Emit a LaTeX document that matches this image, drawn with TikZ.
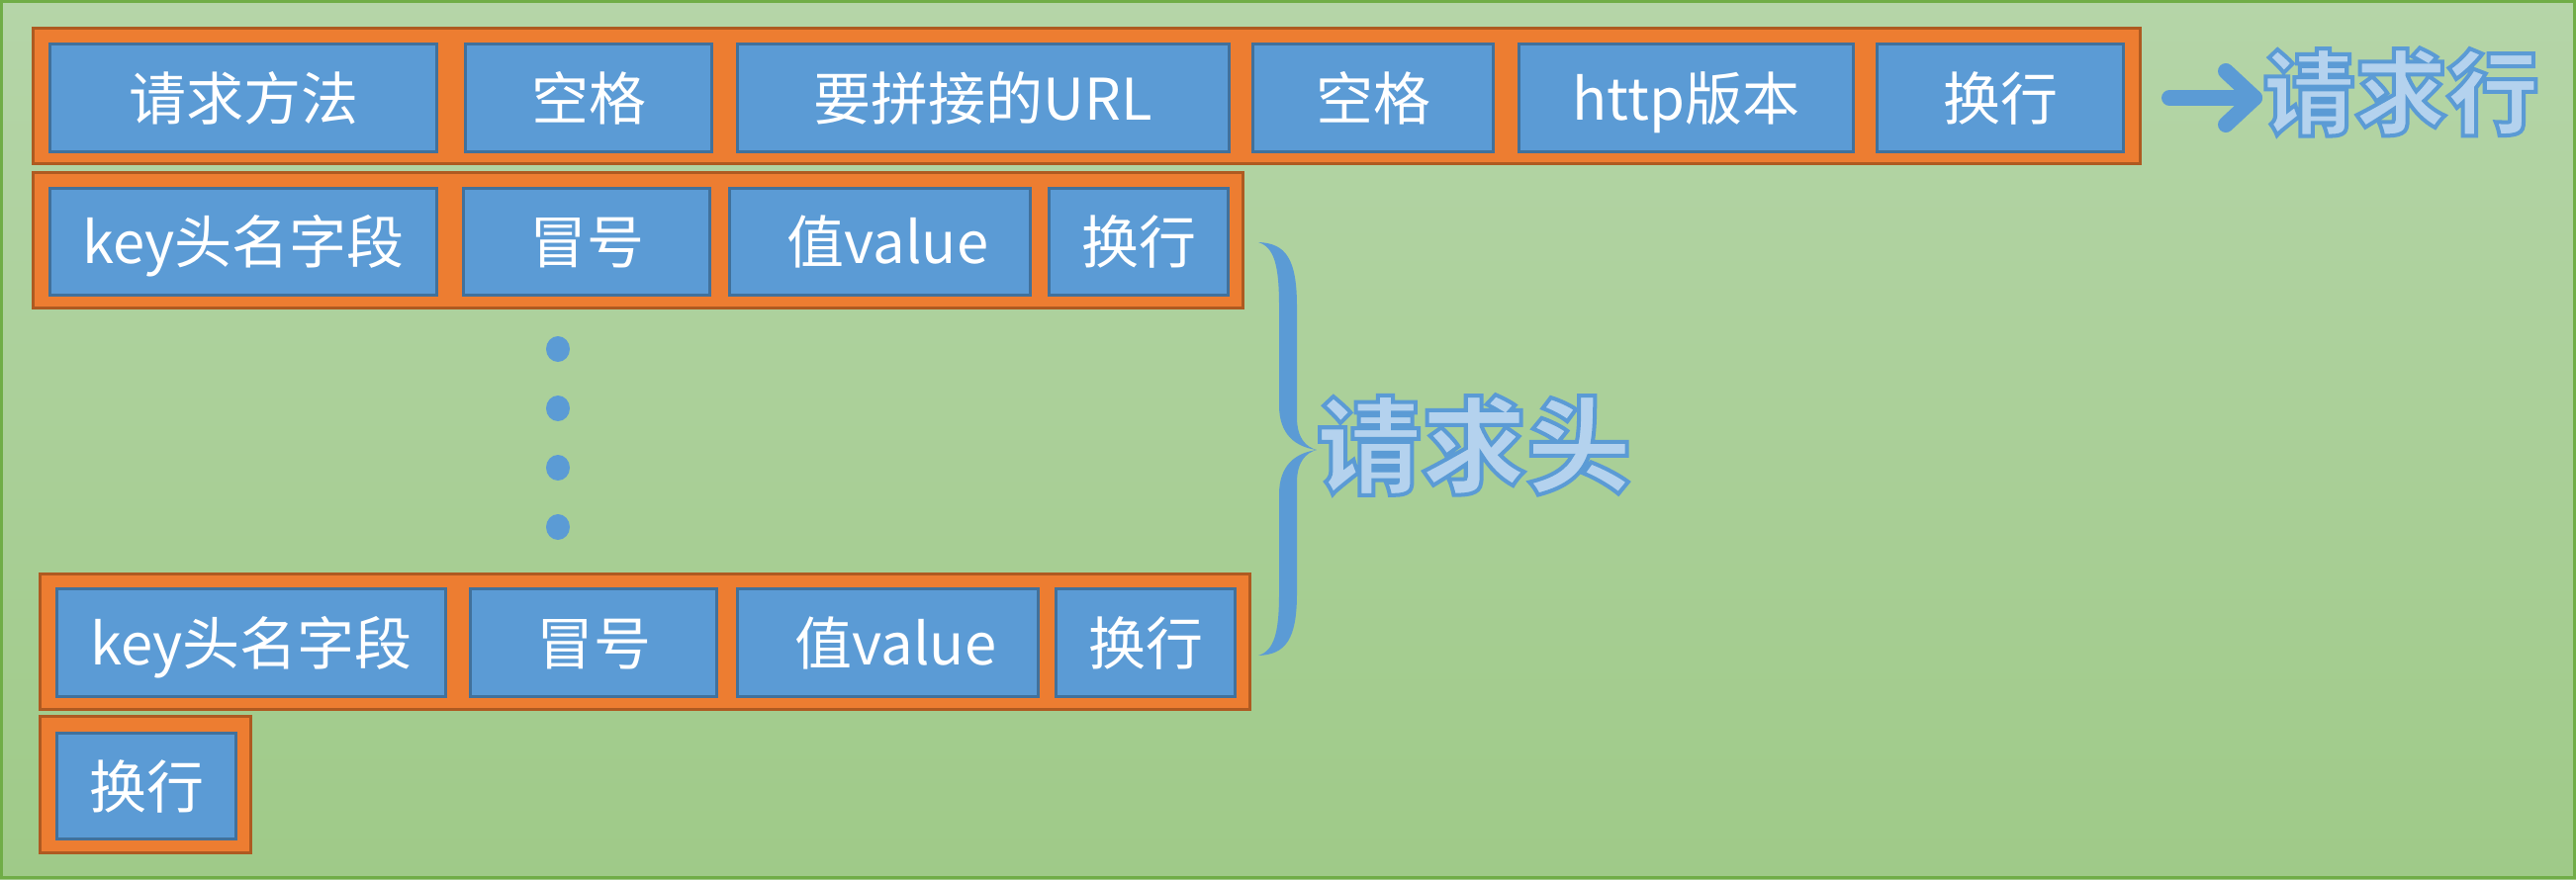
\documentclass[tikz,border=0pt]{standalone}
\usepackage{fontspec}
\newfontfamily\cjk{Noto Sans CJK SC}
\definecolor{bl}{HTML}{5B9BD5}
\definecolor{blb}{HTML}{41719C}
\definecolor{org}{HTML}{ED7D31}
\definecolor{orgb}{HTML}{AE5A21}
\definecolor{grnb}{HTML}{70AD47}
\definecolor{bgtop}{HTML}{B5D5A8}
\definecolor{bgbot}{HTML}{9FCA88}
\definecolor{lt}{HTML}{B4D2EE}
\newcommand{\outlinetext}[1]{\special{pdf:literal direct 2 Tr 4 w 0.357 0.608 0.835 RG}#1\special{pdf:literal direct 0 Tr}}
\begin{document}
\begin{tikzpicture}[x=1pt,y=-1pt,
  rowbox/.style={draw=orgb,fill=org,line width=3pt,inner sep=0pt,outer sep=0pt},
  field/.style={draw=blb,fill=bl,line width=3pt,inner sep=0pt,outer sep=0pt,
    text=white,font=\cjk\fontsize{58}{58}\selectfont,text height=47.5pt,text depth=3.5pt},
  biglabel/.style={inner sep=0pt,outer sep=0pt,text=lt,font=\cjk\bfseries},
  arrowline/.style={draw=bl,line width=16pt,line cap=round,line join=round}]
\useasboundingbox (0,0) rectangle (2604,889);
\shade[top color=bgtop,bottom color=bgbot] (0,0) rectangle (2604,889);
\draw[grnb,line width=3pt] (1.5,1.5) rectangle (2602.5,887.5);

% request line
\node[rowbox,minimum width=2130pt,minimum height=137pt] (r1) at (1098.5,97) {};
\node[field,minimum width=391pt,minimum height=109pt] (r1a) at (246,99) {请求方法};
\node[field,minimum width=249pt,minimum height=109pt] (r1b) at (595,99) {空格};
\node[field,minimum width=497pt,minimum height=109pt] (r1c) at (994,99) {要拼接的URL};
\node[field,minimum width=243pt,minimum height=109pt] (r1d) at (1388,99) {空格};
\node[field,minimum width=338pt,minimum height=109pt] (r1e) at (1704.5,99) {http版本};
\node[field,minimum width=249pt,minimum height=109pt] (r1f) at (2022,99) {换行};

% header line 1
\node[rowbox,minimum width=1223pt,minimum height=137pt] (r2) at (645,243) {};
\node[field,minimum width=391pt,minimum height=108pt] (r2a) at (246,244.5) {key头名字段};
\node[field,minimum width=249pt,minimum height=108pt] (r2b) at (593,244.5) {冒号};
\node[field,minimum width=304pt,minimum height=108pt] (r2c) at (889.5,244.5) {\hspace*{16pt}值value};
\node[field,minimum width=181pt,minimum height=108pt] (r2d) at (1151,244.5) {换行};

% dots
\foreach \yy in {353,413,473,533} \fill[bl] (564,\yy) ellipse [x radius=12,y radius=13];

% header line n
\node[rowbox,minimum width=1223pt,minimum height=137pt] (r3) at (652,649) {};
\node[field,minimum width=393pt,minimum height=109pt] (r3a) at (254,650) {key头名字段};
\node[field,minimum width=249pt,minimum height=109pt] (r3b) at (600,650) {冒号};
\node[field,minimum width=304pt,minimum height=109pt] (r3c) at (897.5,650) {\hspace*{16pt}值value};
\node[field,minimum width=181pt,minimum height=109pt] (r3d) at (1158,650) {换行};

% empty line
\node[rowbox,minimum width=213pt,minimum height=138pt] (r4) at (147,793.5) {};
\node[field,minimum width=181pt,minimum height=107pt] (r4a) at (148,795) {换行};

% brace
\fill[bl] (1272,245) .. controls (1300,246) and (1311,262) .. (1311,310)
  -- (1311,422) .. controls (1311,443) and (1320,452) .. (1331,455)
  .. controls (1320,458) and (1311,467) .. (1311,488)
  -- (1311,600) .. controls (1311,646) and (1300,662) .. (1272,663)
  .. controls (1288,658) and (1293,640) .. (1293,600)
  -- (1293,500) .. controls (1293,470) and (1310,458) .. (1331,455)
  .. controls (1310,452) and (1293,440) .. (1293,410)
  -- (1293,310) .. controls (1293,268) and (1288,250) .. (1272,245) -- cycle;

% arrow
\coordinate (arrS) at (2193,99);
\coordinate (arrT) at (2279,99);
\coordinate (arrU) at (2250,72);
\coordinate (arrD) at (2250,126);
\draw[arrowline] (arrS) -- (arrT);
\draw[arrowline] (arrU) -- (arrT) -- (arrD);

% labels
\node[biglabel,font=\cjk\bfseries\fontsize{93}{93}\selectfont] (lineLabel) at (2427,93) {\outlinetext{请求行}};
\node[biglabel,font=\cjk\bfseries\fontsize{106}{106}\selectfont] (headLabel) at (1490,450) {\outlinetext{请求头}};
\end{tikzpicture}
\end{document}
